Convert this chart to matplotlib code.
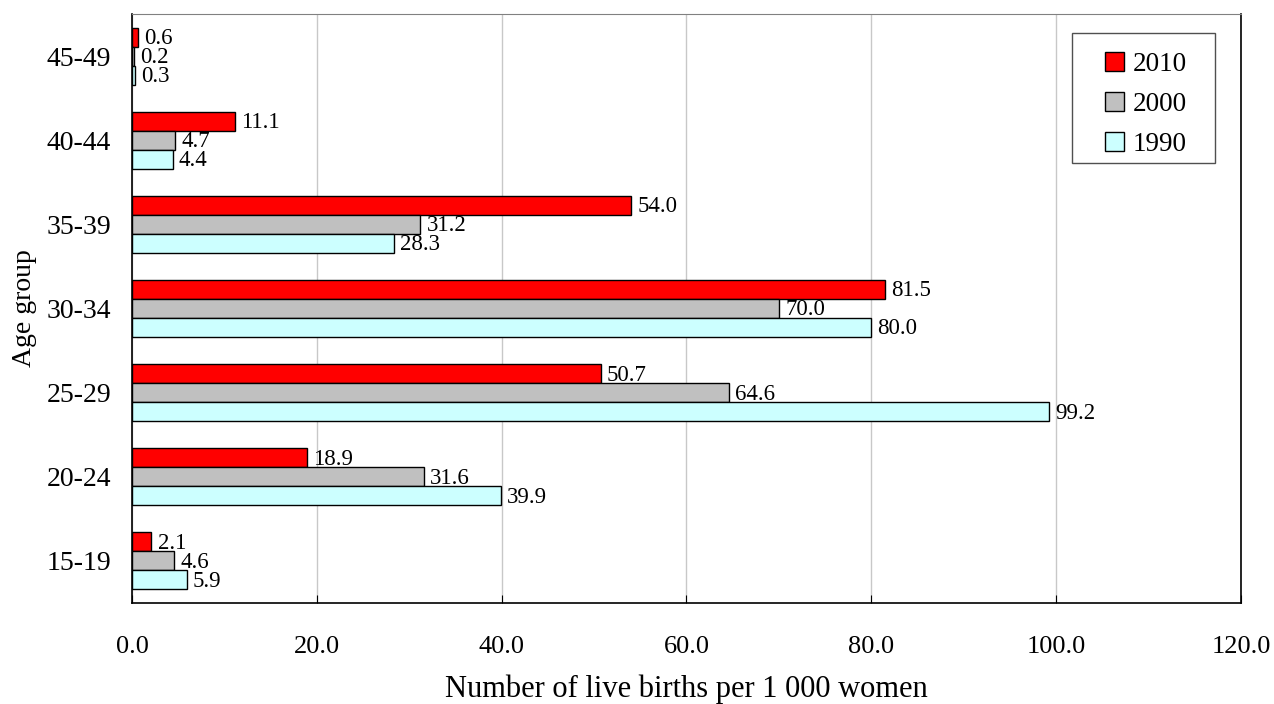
import matplotlib
matplotlib.use('Agg')
import matplotlib.pyplot as plt
from matplotlib.patches import Rectangle
import numpy as np

plt.rcParams['font.family'] = ['Liberation Serif', 'DejaVu Serif']

age_groups = ['15-19', '20-24', '25-29', '30-34', '35-39', '40-44', '45-49']
rate_2010 = [2.1, 18.9, 50.7, 81.5, 54.0, 11.1, 0.6]
rate_2000 = [4.6, 31.6, 64.6, 70.0, 31.2, 4.7, 0.2]
rate_1990 = [5.9, 39.9, 99.2, 80.0, 28.3, 4.4, 0.3]
years = ['2010', '2000', '1990']
colors = ['#ff0000', '#c0c0c0', '#ccffff']

fig = plt.figure(figsize=(12.74, 7.04), dpi=100)
ax = fig.add_axes([0.1036, 0.1435, 0.8705, 0.8366])

y = np.arange(len(age_groups))
h = 0.226
series = [rate_2010, rate_2000, rate_1990]
offsets = [h, 0, -h]

for vals, off, col, lab in zip(series, offsets, colors, years):
    bars = ax.barh(y + off, vals, height=h, color=col, edgecolor='black',
                   linewidth=1.0, label=lab, zorder=3)
    for b, v in zip(bars, vals):
        ax.annotate(f'{v:.1f}', (v, b.get_y() + h / 2), xytext=(4.5, -1),
                    textcoords='offset points', ha='left', va='center',
                    fontsize=16.5, zorder=4)

ax.set_xlim(0, 120)
ax.set_ylim(-0.5, 6.5)
ax.set_xticks(np.arange(0, 121, 20))
ax.set_xticklabels([f'{t:.1f}' for t in np.arange(0, 121, 20)])
ax.set_yticks(y)
ax.set_yticklabels(age_groups)
ax.tick_params(axis='x', direction='in', length=6, pad=24, labelsize=19)
ax.tick_params(axis='y', length=0, pad=15, labelsize=20)
ax.grid(axis='x', color='#c8c8c8', linewidth=1.0, zorder=0)

for s in ['left', 'bottom', 'right']:
    ax.spines[s].set_color('black')
    ax.spines[s].set_linewidth(1.2)
ax.spines['top'].set_color('#808080')

ax.set_xlabel('Number of live births per 1 000 women', fontsize=22, labelpad=12)
ax.set_ylabel('Age group', fontsize=20, labelpad=7)

# legend entries without frame, box drawn separately
leg = ax.legend(loc='upper left', bbox_to_anchor=(0.877, 0.935), fontsize=19.5,
                frameon=False, handlelength=0.7, handleheight=0.7,
                handletextpad=0.35, labelspacing=0.55, borderpad=0,
                borderaxespad=0)
for hdl in leg.legend_handles:
    hdl.set_linewidth(1.0)
ax.add_patch(Rectangle((0.8476, 0.747), 0.1289, 0.2207, transform=ax.transAxes,
                       facecolor='none', edgecolor='#505050', linewidth=1.0,
                       zorder=5, clip_on=False))

fig.savefig('out.png', dpi=100)
